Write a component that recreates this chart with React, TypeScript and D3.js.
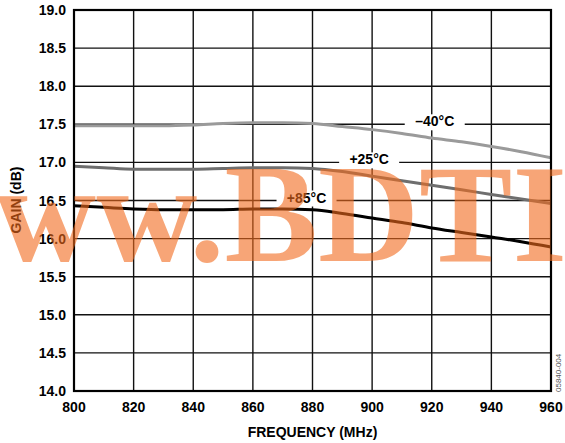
import React from "react";
import * as d3 from "d3";

// Frequency sweep (MHz) and measured gain (dB) at three temperatures
const freqs = [800, 810, 820, 830, 840, 850, 860, 870, 880, 890, 900, 910, 920, 930, 940, 950, 960];
const gainMinus40 = [17.48, 17.48, 17.48, 17.48, 17.49, 17.51, 17.52, 17.52, 17.51, 17.47, 17.43, 17.38, 17.32, 17.27, 17.21, 17.14, 17.06];
const gainPlus25 = [16.95, 16.93, 16.91, 16.91, 16.91, 16.92, 16.93, 16.93, 16.92, 16.88, 16.82, 16.76, 16.70, 16.64, 16.58, 16.52, 16.46];
const gainPlus85 = [16.43, 16.41, 16.39, 16.38, 16.38, 16.38, 16.39, 16.39, 16.38, 16.33, 16.27, 16.21, 16.14, 16.08, 16.02, 15.96, 15.89];

const xTicks = [800, 820, 840, 860, 880, 900, 920, 940, 960];
const yTicks = [14.0, 14.5, 15.0, 15.5, 16.0, 16.5, 17.0, 17.5, 18.0, 18.5, 19.0];

const seriesNames = ["–40°C", "+25°C", "+85°C"];
const seriesColors = ["#9a9a9a", "#6e6e6e", "#000000"];
// Where each series label sits (frequency, gain of the gridline it covers)
const labelFreq = [921, 899, 878];
const labelGain = [17.5, 17.0, 16.5];

const W = 565;
const H = 443;
const M = { left: 74, right: 551, top: 10, bottom: 391 };

export default function App() {
  const x = d3.scaleLinear().domain([800, 960]).range([M.left, M.right]);
  const y = d3.scaleLinear().domain([14, 19]).range([M.bottom, M.top]);
  const line = d3
    .line<number>()
    .x((_, i) => x(freqs[i]))
    .y((d) => y(d))
    .curve(d3.curveMonotoneX);
  const series = [gainMinus40, gainPlus25, gainPlus85];
  const font = "'Liberation Sans', Arial, sans-serif";

  return (
    <svg
      width={W}
      height={H}
      style={{ position: "absolute", left: 0, top: 0, background: "#fff" }}
      fontFamily={font}
    >
      <rect x={0} y={0} width={W} height={H} fill="#fff" />
      {/* grid */}
      {xTicks.map((t) => (
        <line key={"gx" + t} x1={x(t)} x2={x(t)} y1={M.top} y2={M.bottom} stroke="#111" strokeWidth={1.4} />
      ))}
      {yTicks.map((t) => (
        <line key={"gy" + t} x1={M.left} x2={M.right} y1={y(t)} y2={y(t)} stroke="#111" strokeWidth={1.4} />
      ))}
      {/* curves */}
      {series.map((s, i) => (
        <path key={"s" + i} d={line(s) || ""} fill="none" stroke={seriesColors[i]} strokeWidth={3} />
      ))}
      {/* series labels */}
      {seriesNames.map((n, i) => {
        const cx = x(labelFreq[i]);
        const cy = y(labelGain[i]);
        return (
          <g key={"l" + i}>
            <rect x={cx - 30} y={cy - 10} width={60} height={16} fill="#fff" />
            <text x={cx} y={cy + 2} textAnchor="middle" fontSize={14} fontWeight="bold" fill="#000">
              {n}
            </text>
          </g>
        );
      })}
      {/* frame */}
      <rect
        x={M.left}
        y={M.top}
        width={M.right - M.left}
        height={M.bottom - M.top}
        fill="none"
        stroke="#000"
        strokeWidth={2.2}
      />
      {/* tick labels */}
      {yTicks.map((t) => (
        <text key={"ty" + t} x={66} y={y(t) + 5} textAnchor="end" fontSize={14} fontWeight="bold">
          {t.toFixed(1)}
        </text>
      ))}
      {xTicks.map((t) => (
        <text key={"tx" + t} x={x(t)} y={412} textAnchor="middle" fontSize={14} fontWeight="bold">
          {t}
        </text>
      ))}
      <text x={(M.left + M.right) / 2} y={437} textAnchor="middle" fontSize={14} fontWeight="bold">
        FREQUENCY (MHz)
      </text>
      <text
        transform={`translate(21, 200) rotate(-90)`}
        textAnchor="middle"
        fontSize={14}
        fontWeight="bold"
      >
        GAIN (dB)
      </text>
      <text
        transform="translate(561, 392) rotate(-90)"
        textAnchor="start"
        fontSize={8}
        fill="#555"
      >
        05840-004
      </text>
      {/* watermark */}
      <text
        x={-106}
        y={261}
        fontFamily="'Liberation Serif', 'Times New Roman', serif"
        fontWeight="bold"
        fontSize={140}
        fill="#f26b1d"
        opacity={0.6}
      >
        www.BDTI
      </text>
    </svg>
  );
}
